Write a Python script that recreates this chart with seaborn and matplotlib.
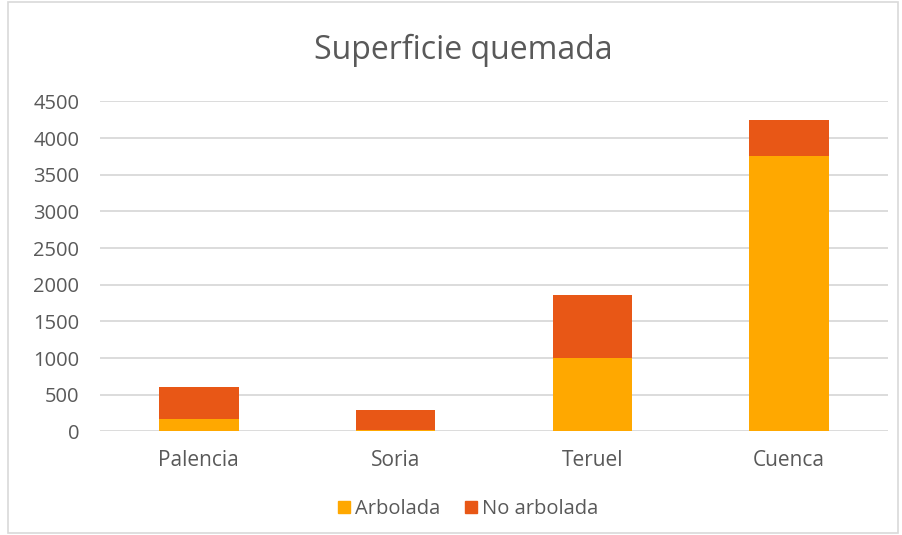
import matplotlib
matplotlib.use("Agg")
import matplotlib.pyplot as plt
import seaborn as sns
import pandas as pd
from matplotlib.lines import Line2D
from matplotlib.patches import Rectangle

# Data
provincias = ["Palencia", "Soria", "Teruel", "Cuenca"]
arbolada = [170, 25, 1005, 3755]
no_arbolada = [430, 262, 855, 495]

df = pd.DataFrame({"provincia": provincias, "arbolada": arbolada, "no_arbolada": no_arbolada})
df["total"] = df["arbolada"] + df["no_arbolada"]

c_arb = "#FFA800"
c_no = "#E85716"
txt = "#595959"

sns.set_style("white")
plt.rcParams["font.family"] = ["Open Sans", "DejaVu Sans"]

fig = plt.figure(figsize=(9.03, 5.35), dpi=100)
ax = fig.add_axes([0.111, 0.1935, 0.872, 0.617])

# top segment drawn as the full stack, bottom segment over it
sns.barplot(data=df, x="provincia", y="total", color=c_no, width=0.405,
            saturation=1, linewidth=0, ax=ax, zorder=2)
sns.barplot(data=df, x="provincia", y="arbolada", color=c_arb, width=0.405,
            saturation=1, linewidth=0, ax=ax, zorder=3)

ax.set_ylim(0, 4500)
ax.set_yticks(range(0, 4501, 500))
ax.set_xlim(-0.5, 3.5)
ax.yaxis.grid(True, color="#d9d9d9", linewidth=1.3, zorder=0)
ax.set_axisbelow(True)
for s in ax.spines.values():
    s.set_visible(False)
ax.set_xlabel("")
ax.set_ylabel("")
ax.tick_params(axis="y", length=0, labelsize=14.5, labelcolor=txt, pad=15)
ax.tick_params(axis="x", length=0, labelsize=15, labelcolor=txt, pad=13)

fig.text(0.513, 0.905, "Superficie quemada", ha="center", va="center",
         fontsize=23, color=txt)

handles = [Line2D([], [], marker="s", linestyle="", markersize=8.5,
                  markerfacecolor=c_arb, markeredgecolor=c_arb),
           Line2D([], [], marker="s", linestyle="", markersize=8.5,
                  markerfacecolor=c_no, markeredgecolor=c_no)]
fig.legend(handles, ["Arbolada", "No arbolada"], loc="center",
           bbox_to_anchor=(0.516, 0.049), ncol=2, frameon=False,
           fontsize=14.5, labelcolor=txt, handlelength=1.0,
           handletextpad=0.05, columnspacing=1.0)

# light chart border
fig.patches.append(Rectangle((0.009, 0.004), 0.986, 0.993, transform=fig.transFigure,
                             fill=False, edgecolor="#d9d9d9", linewidth=1.2))

fig.savefig("out.png", dpi=100, facecolor="white")
